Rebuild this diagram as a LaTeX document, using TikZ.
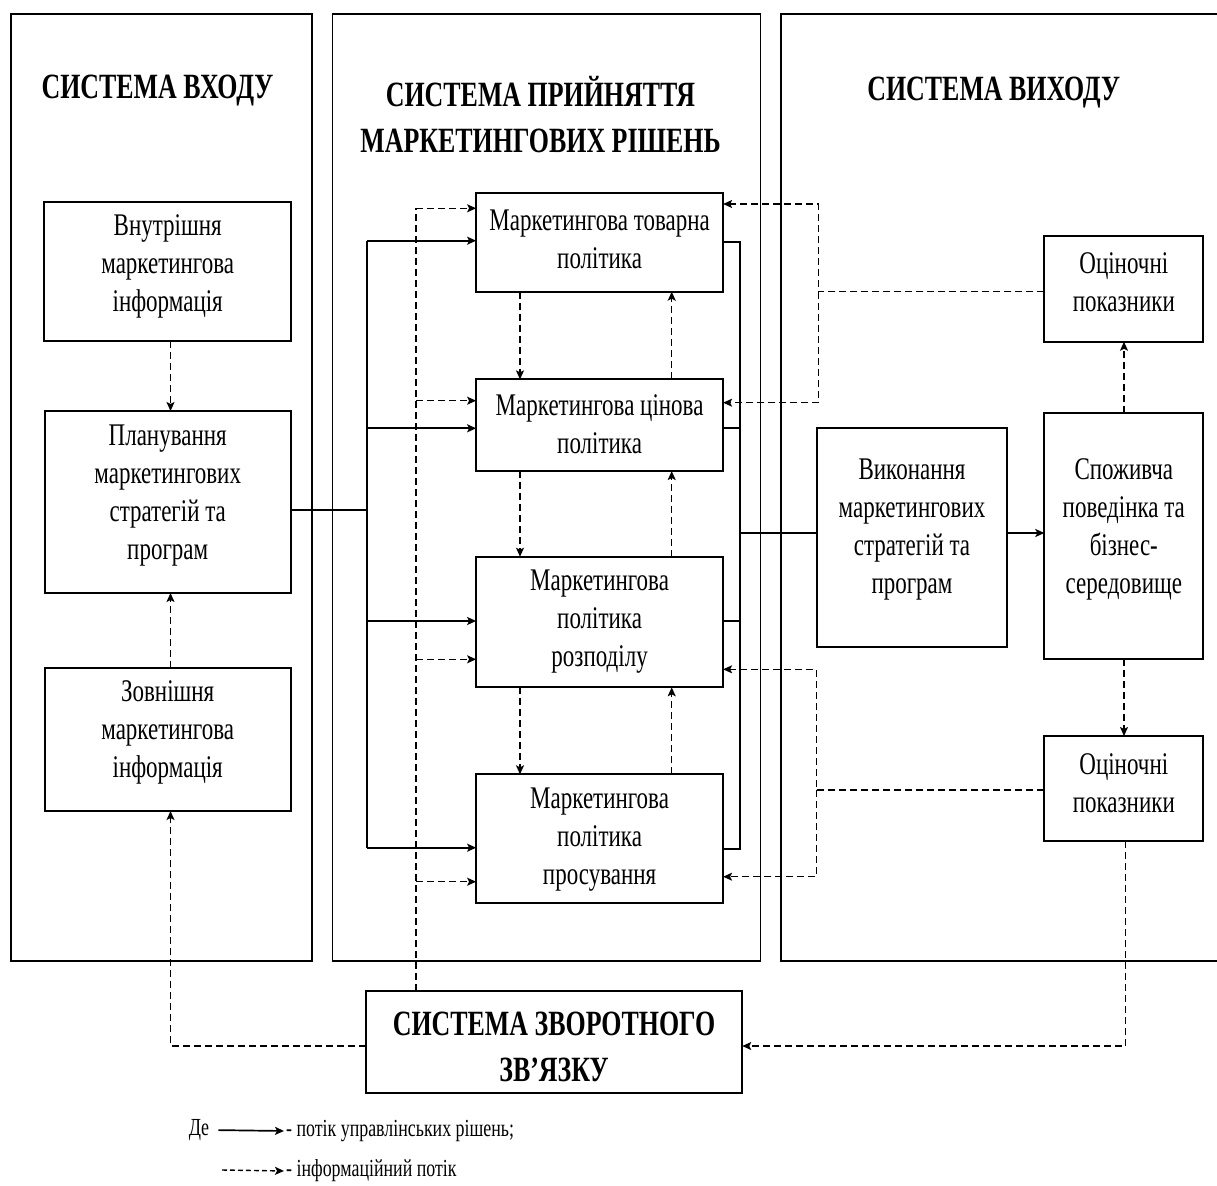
\documentclass[tikz,border=0pt]{standalone}
\usepackage{fontspec}
\setmainfont{Liberation Serif}[FakeStretch=0.73]
\usetikzlibrary{arrows.meta}
\begin{document}
\begin{tikzpicture}[x=1pt,y=-1pt,
  panel/.style={draw, line width=1.7pt, inner sep=0pt, outer sep=0pt},
  box/.style={draw, line width=1.8pt, inner sep=0pt, outer sep=0pt},
  txt/.style={align=center, font=\fontsize{31.5}{38}\selectfont, inner sep=0pt},
  ttl/.style={align=center, font=\bfseries\fontsize{35.5}{46}\selectfont, inner sep=0pt},
  leg/.style={font=\fontsize{24.5}{28}\selectfont, inner sep=0pt},
  tip/.tip={Stealth[length=9pt,width=8pt,inset=2pt]},
  ctlline/.style={line width=1.7pt},
  ctl/.style={line width=1.7pt, -tip},
  inf/.style={line width=1.4pt, dash pattern=on 7pt off 4pt},
  infa/.style={inf, -tip}]
\useasboundingbox (0,0) rectangle (1217,1185);

% panels
\node[panel, minimum width=301, minimum height=946.7] (pin) at (161.2,487.35) {};
\node[panel, minimum width=428, minimum height=946.7] (pmid) at (546.5,487.35) {};
\node[panel, minimum width=449, minimum height=946.7] (pout) at (1005.5,487.35) {};

% titles
\node[ttl] (tin) at (157.5,91) {СИСТЕМА ВХОДУ};
\node[ttl] (tmid) at (540.5,115) {СИСТЕМА ПРИЙНЯТТЯ\\МАРКЕТИНГОВИХ РІШЕНЬ};
\node[ttl] (tout) at (993.7,93) {СИСТЕМА ВИХОДУ};

% left boxes
\node[box, minimum width=247, minimum height=139.3] (vnut) at (167.7,271.4) {};
\node[txt] (vnutT) at (167.7,266) {Внутрішня\\маркетингова\\інформація};
\node[box, minimum width=246, minimum height=182] (plan) at (167.7,502) {};
\node[txt] (planT) at (167.7,496) {Планування\\маркетингових\\стратегій та\\програм};
\node[box, minimum width=246, minimum height=143.3] (zovn) at (167.7,739.4) {};
\node[txt] (zovnT) at (167.7,732) {Зовнішня\\маркетингова\\інформація};

% middle boxes
\node[box, minimum width=247, minimum height=98.4] (tov) at (599.6,242.5) {};
\node[txt] (tovT) at (599.6,239.5) {Маркетингова товарна\\політика};
\node[box, minimum width=247, minimum height=91.7] (cin) at (599.6,425.2) {};
\node[txt] (cinT) at (599.6,424) {Маркетингова цінова\\політика};
\node[box, minimum width=247, minimum height=130.6] (roz) at (599.6,622) {};
\node[txt] (rozT) at (599.6,622) {Маркетингова\\політика\\розподілу};
\node[box, minimum width=247, minimum height=129] (pros) at (599.6,838.8) {};
\node[txt] (prosT) at (599.6,839.5) {Маркетингова\\політика\\просування};

% right boxes
\node[box, minimum width=190.6, minimum height=218.4] (vyk) at (912,537.5) {};
\node[txt] (vykT) at (912,529.5) {Виконання\\маркетингових\\стратегій та\\програм};
\node[box, minimum width=159, minimum height=246] (spoz) at (1123.8,536.3) {};
\node[txt] (spozT) at (1123.8,529) {Споживча\\поведінка та\\бізнес-\\середовище};
\node[box, minimum width=159, minimum height=105.7] (oc1) at (1123.8,288.9) {};
\node[txt] (oc1T) at (1123.8,282) {Оціночні\\показники};
\node[box, minimum width=159, minimum height=105] (oc2) at (1123.8,788.5) {};
\node[txt] (oc2T) at (1123.8,783.5) {Оціночні\\показники};

% feedback box
\node[box, minimum width=376.5, minimum height=102.6] (fb) at (554,1042) {};
\node[ttl] (fbT) at (554,1047) {СИСТЕМА ЗВОРОТНОГО\\ЗВ’ЯЗКУ};

% ---- control flow (solid) ----
\coordinate (bj) at (367.3,510);
\coordinate (b1) at (367.3,240.7);
\coordinate (b2) at (367.3,428.3);
\coordinate (b3) at (367.3,621);
\coordinate (b4) at (367.3,847.7);
\draw[ctlline] (plan.east |- bj) -- (bj);
\draw[ctlline] (b1) -- (b4);
\draw[ctl] (b1) -- (tov.west |- b1);
\draw[ctl] (b2) -- (cin.west |- b2);
\draw[ctl] (b3) -- (roz.west |- b3);
\draw[ctl] (b4) -- (pros.west |- b4);

\coordinate (r1) at (740,242.3);
\coordinate (r2) at (740,428.3);
\coordinate (r3) at (740,621);
\coordinate (r4) at (740,849.3);
\coordinate (rj) at (740,533);
\draw[ctlline] (tov.east |- r1) -- (r1) -- (r4) -- (pros.east |- r4);
\draw[ctlline] (cin.east |- r2) -- (r2);
\draw[ctlline] (roz.east |- r3) -- (r3);
\draw[ctlline] (rj) -- (vyk.west |- rj);
\draw[ctl] (vyk.east |- rj) -- (spoz.west |- rj);

% ---- information flow (dashed) ----
\coordinate (xl) at (170.5,0);
\draw[infa] (vnut.south -| xl) -- (plan.north -| xl);
\draw[infa] (zovn.north -| xl) -- (plan.south -| xl);
\coordinate (fl) at (170.5,1046);
\draw[infa] (fb.west |- fl) -- (fl) -- (zovn.south -| fl);

\coordinate (fv1) at (416,208.3);
\coordinate (fv2) at (416,400.7);
\coordinate (fv3) at (416,659.3);
\coordinate (fv4) at (416,881.7);
\draw[inf] (fb.north -| fv1) -- (fv1);
\draw[infa] (fv1) -- (tov.west |- fv1);
\draw[infa] (fv2) -- (cin.west |- fv2);
\draw[infa] (fv3) -- (roz.west |- fv3);
\draw[infa] (fv4) -- (pros.west |- fv4);

\coordinate (xd) at (520,0);
\coordinate (xu) at (671.7,0);
\draw[infa] (tov.south -| xd) -- (cin.north -| xd);
\draw[infa] (cin.south -| xd) -- (roz.north -| xd);
\draw[infa] (roz.south -| xd) -- (pros.north -| xd);
\draw[infa] (cin.north -| xu) -- (tov.south -| xu);
\draw[infa] (roz.north -| xu) -- (cin.south -| xu);
\draw[infa] (pros.north -| xu) -- (roz.south -| xu);

\coordinate (o1) at (818.3,291.7);
\coordinate (o1a) at (818.3,204);
\coordinate (o1b) at (818.3,402.7);
\draw[infa] (oc1.west |- o1) -- (o1) -- (o1a) -- (tov.east |- o1a);
\draw[infa] (o1) -- (o1b) -- (cin.east |- o1b);

\coordinate (o2) at (816.7,790);
\coordinate (o2a) at (816.7,669.3);
\coordinate (o2b) at (816.7,876.7);
\draw[infa] (oc2.west |- o2) -- (o2) -- (o2a) -- (roz.east |- o2a);
\draw[infa] (o2) -- (o2b) -- (pros.east |- o2b);

\coordinate (xr) at (1124,0);
\draw[infa] (spoz.north -| xr) -- (oc1.south -| xr);
\draw[infa] (spoz.south -| xr) -- (oc2.north -| xr);
\coordinate (fr) at (1125.7,1046);
\draw[infa] (oc2.south -| fr) -- (fr) -- (fb.east |- fr);

% ---- legend ----
\node[leg] (de) at (199,1130) {Де};
\node[leg, anchor=west] (l1t) at (286,1131) {- потік управлінських рішень;};
\draw[ctl, shorten <=9pt, shorten >=2pt] (de.east) -- (l1t.west);
\coordinate (l2a) at (222,1170);
\node[leg, anchor=west] (l2t) at (286,1171) {- інформаційний потік};
\draw[line width=1.4pt, dash pattern=on 5pt off 3pt, -tip, shorten >=2pt] (l2a) -- (l2t.west);
\end{tikzpicture}
\end{document}
